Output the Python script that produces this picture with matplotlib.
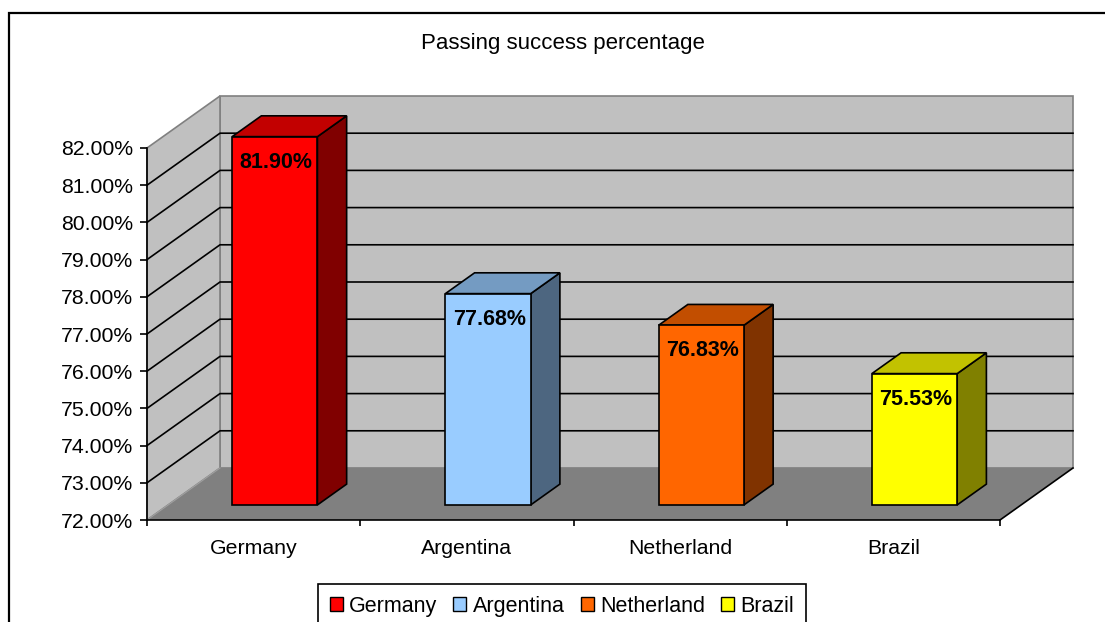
import matplotlib
matplotlib.use('Agg')
import matplotlib.pyplot as plt
from matplotlib.patches import Polygon, Rectangle, Patch
import numpy as np

# ---- data ----
countries = ["Germany", "Argentina", "Netherland", "Brazil"]
values = [81.90, 77.68, 76.83, 75.53]
front_colors = ["#FF0000", "#99CCFF", "#FF6600", "#FFFF00"]
y_ticks = [72, 73, 74, 75, 76, 77, 78, 79, 80, 81, 82]
title = "Passing success percentage"

plt.rcParams['font.family'] = ['Liberation Sans', 'DejaVu Sans']

W, H = 1105, 622
fig = plt.figure(figsize=(W / 100, H / 100), dpi=100)
fig.patch.set_facecolor('white')
ax = fig.add_axes([147 / W, (H - 520) / H, 853 / W, 372 / H])
ax.set_xlim(0, len(countries))
ax.set_ylim(y_ticks[0], y_ticks[-1])
ax.patch.set_visible(False)

# pseudo-3D depth offset in data units
DX, DY = 0.3423, 1.398
ymin, ymax = y_ticks[0], y_ticks[-1]
n = len(countries)


def P(x, y, d):
    return (x + d * DX, y + d * DY)


def poly(pts, fc, ec, lw, z):
    ax.add_patch(Polygon(pts, closed=True, facecolor=fc, edgecolor=ec,
                         linewidth=lw, zorder=z, clip_on=False,
                         joinstyle='miter'))


def shade(hexc, f):
    c = np.array(matplotlib.colors.to_rgb(hexc)) * f
    return tuple(c)


# back wall
poly([P(0, ymin, 1), P(n, ymin, 1), P(n, ymax, 1), P(0, ymax, 1)],
     '#C0C0C0', '#808080', 1.2, 0.5)
# side wall
poly([P(0, ymin, 0), P(0, ymin, 1), P(0, ymax, 1), P(0, ymax, 0)],
     '#C0C0C0', '#808080', 1.2, 0.6)
# floor
poly([P(0, ymin, 0), P(n, ymin, 0), P(n, ymin, 1), P(0, ymin, 1)],
     '#808080', 'none', 0, 0.7)
ax.plot([n, n + DX], [ymin, ymin + DY], color='black', lw=1.2,
        clip_on=False, zorder=0.8)
ax.plot([0, DX], [ymin, ymin + DY], color='#A0A0A0', lw=0.8,
        clip_on=False, zorder=0.8)

# gridlines on side and back wall
for v in y_ticks[1:-1]:
    ax.plot([0, DX, n + DX], [v, v + DY, v + DY], color='black', lw=1.2,
            clip_on=False, zorder=1.5)

# bars
d0, d1 = 0.29, 0.69
bw = 0.4
for i, (v, c) in enumerate(zip(values, front_colors)):
    xl, xr = i + 0.5 - bw / 2, i + 0.5 + bw / 2
    z = 3 + i
    poly([P(xr, ymin, d0), P(xr, v, d0), P(xr, v, d1), P(xr, ymin, d1)],
         shade(c, 0.5), 'black', 1.2, z)
    poly([P(xl, v, d0), P(xr, v, d0), P(xr, v, d1), P(xl, v, d1)],
         shade(c, 0.76), 'black', 1.2, z)
    poly([P(xl, ymin, d0), P(xr, ymin, d0), P(xr, v, d0), P(xl, v, d0)],
         c, 'black', 1.2, z + 0.1)
    ax.annotate(f"{v:.2f}%", xy=P(i + 0.5, v, d0), xytext=(1, -22.5),
                textcoords='offset points', ha='center', va='baseline',
                fontsize=15.5, fontweight='bold', color='black', zorder=z + 0.2,
                annotation_clip=False)

# axes styling
for s in ['top', 'right']:
    ax.spines[s].set_visible(False)
for s in ['left', 'bottom']:
    ax.spines[s].set_color('black')
    ax.spines[s].set_linewidth(1.2)
    ax.spines[s].set_zorder(2)

ax.set_yticks(y_ticks)
ax.set_yticklabels([f"{v:.2f}%" for v in y_ticks])
ax.tick_params(axis='y', direction='out', length=5, width=1.2, pad=5,
               labelsize=15.3, colors='black')
ax.set_xticks(np.arange(n) + 0.5)
ax.set_xticklabels(countries)
ax.set_xticks(np.arange(n + 1), minor=True)
ax.tick_params(axis='x', which='major', length=0, pad=13.5, labelsize=15.3)
ax.tick_params(axis='x', which='minor', direction='out', length=4.5, width=1.2)

# title
fig.text(563 / W, 1 - 44 / H, title, ha='center', va='center', fontsize=16)

# legend
handles = [Patch(facecolor=c, edgecolor='black', linewidth=1) for c in front_colors]
leg = fig.legend(handles, countries, loc='upper left',
                 bbox_to_anchor=(318 / W, 1 - 584 / H, 488 / W, 0),
                 mode='expand', ncol=4, fontsize=15.5, frameon=True,
                 fancybox=False, edgecolor='black', handlelength=0.6,
                 handleheight=0.6, handletextpad=0.3, columnspacing=0.5,
                 borderpad=0.55, borderaxespad=0)
leg.get_frame().set_linewidth(1.2)
leg.get_frame().set_alpha(1)

# outer chart border
fig.patches.append(Rectangle((9 / W, -0.1), 1.2, 1 - 13 / H + 0.1,
                             transform=fig.transFigure, fill=False,
                             edgecolor='black', linewidth=1.6))

fig.savefig('out.png', dpi=100)
